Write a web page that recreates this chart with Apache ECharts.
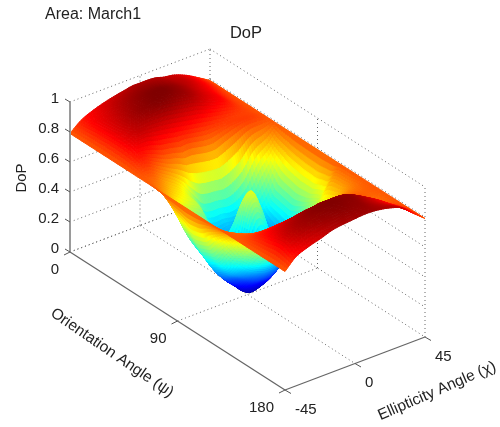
<!DOCTYPE html>
<html><head><meta charset="utf-8">
<style>html,body{margin:0;padding:0;background:#fff}#c{width:500px;height:427px;filter:blur(0.4px)}</style>
<script src="https://cdn.jsdelivr.net/npm/echarts@6/dist/echarts.min.js"></script>
</head><body><div id="c"></div>
<script>
const psiTicks = [0, 90, 180];
const chiTicks = [-45, 0, 45];
const dopTicks = [0, 0.2, 0.4, 0.6, 0.8, 1];
const psiGrid = [0,10,20,30,40,50,60,70,75,80,85,90,95,100,105,110,120,130,140,150,160,170,180];
const chiGrid = [-45,-38,-30,-22,-15,-10,-5,0,5,10,15,22,30,38,45];
const dopPsi000 = [.79,.85,.887,.913,.93,.94,.95,.95,.95,.945,.93,.917,.883,.835,.79];
const dopPsi010 = [.79,.87,.91,.945,.965,.975,.98,.98,.975,.965,.95,.93,.89,.84,.79];
const dopPsi020 = [.79,.88,.93,.965,.985,.995,1,1,.99,.975,.955,.92,.88,.83,.79];
const dopPsi030 = [.79,.885,.94,.97,.98,.985,.98,.97,.96,.95,.93,.90,.87,.82,.79];
const dopPsi040 = [.79,.88,.92,.91,.90,.89,.88,.87,.86,.85,.84,.83,.82,.81,.79];
const dopPsi050 = [.79,.85,.82,.78,.76,.74,.74,.73,.72,.72,.74,.77,.80,.80,.79];
const dopPsi060 = [.79,.78,.72,.66,.58,.50,.42,.40,.40,.39,.40,.46,.60,.68,.79];
const dopPsi070 = [.79,.72,.64,.58,.53,.42,.31,.29,.31,.31,.30,.33,.42,.62,.79];
const dopPsi075 = [.79,.68,.54,.48,.40,.34,.29,.33,.41,.44,.37,.29,.40,.60,.79];
const dopPsi080 = [.79,.63,.45,.34,.30,.27,.34,.42,.55,.60,.49,.28,.39,.59,.79];
const dopPsi085 = [.79,.60,.42,.29,.20,.15,.13,.18,.38,.48,.40,.25,.38,.58,.79];
const dopPsi090 = [.79,.58,.40,.26,.16,.11,.06,.04,.09,.22,.28,.24,.40,.58,.79];
const dopPsi095 = [.79,.55,.37,.24,.17,.12,.07,.05,.07,.11,.17,.28,.44,.58,.79];
const dopPsi100 = [.79,.56,.39,.27,.22,.18,.14,.13,.13,.16,.22,.32,.48,.60,.79];
const dopPsi105 = [.79,.58,.41,.31,.26,.23,.20,.19,.20,.24,.29,.40,.52,.62,.79];
const dopPsi110 = [.79,.63,.48,.38,.32,.29,.27,.27,.29,.33,.38,.46,.56,.70,.79];
const dopPsi120 = [.79,.70,.60,.50,.44,.42,.42,.44,.47,.50,.54,.58,.64,.72,.79];
const dopPsi130 = [.79,.76,.70,.64,.60,.60,.60,.62,.66,.68,.70,.72,.74,.76,.79];
const dopPsi140 = [.79,.80,.79,.78,.76,.76,.78,.80,.80,.80,.80,.80,.79,.78,.79];
const dopPsi150 = [.79,.85,.87,.88,.88,.88,.90,.90,.91,.91,.90,.87,.82,.77,.79];
const dopPsi160 = [.79,.88,.93,.96,.98,.985,.99,.99,.985,.98,.96,.92,.87,.81,.79];
const dopPsi170 = [.79,.90,.95,.97,.98,.985,.99,.99,.985,.98,.96,.93,.89,.84,.79];
const dopPsi180 = [.79,.86,.895,.92,.945,.955,.96,.965,.97,.97,.965,.95,.92,.85,.79];
const dopRows = [dopPsi000,dopPsi010,dopPsi020,dopPsi030,dopPsi040,dopPsi050,dopPsi060,dopPsi070,dopPsi075,dopPsi080,dopPsi085,dopPsi090,dopPsi095,dopPsi100,dopPsi105,dopPsi110,dopPsi120,dopPsi130,dopPsi140,dopPsi150,dopPsi160,dopPsi170,dopPsi180];

// Oblique box projection (page pixels, mapped through the hidden value axes)
function project(psi, chi, z) {
  const a = psi / 180, b = (chi + 45) / 90;
  return [70 + 215 * a + 140 * b, 252 + 138 * a - 53 * b - 150 * z];
}
function clamp(v) { return Math.max(0, Math.min(1, v)); }
function jet(v) {
  const r = clamp(Math.min(4 * v - 1.5, -4 * v + 4.5));
  const g = clamp(Math.min(4 * v - 0.5, -4 * v + 3.5));
  const b = clamp(Math.min(4 * v + 0.5, -4 * v + 2.5));
  return 'rgb(' + Math.round(r * 255) + ',' + Math.round(g * 255) + ',' + Math.round(b * 255) + ')';
}
// Smooth shading between the read grid values (cubic Hermite, like a shaded surface)
function slopes(xs, ys, k) {
  if (k === 0) return (ys[1] - ys[0]) / (xs[1] - xs[0]);
  if (k === xs.length - 1) return (ys[k] - ys[k - 1]) / (xs[k] - xs[k - 1]);
  return (ys[k + 1] - ys[k - 1]) / (xs[k + 1] - xs[k - 1]);
}
function herm(xs, ys, k, s) {
  const h = xs[k + 1] - xs[k], m0 = slopes(xs, ys, k) * h, m1 = slopes(xs, ys, k + 1) * h;
  const s2 = s * s, s3 = s2 * s;
  return (2 * s3 - 3 * s2 + 1) * ys[k] + (s3 - 2 * s2 + s) * m0 + (-2 * s3 + 3 * s2) * ys[k + 1] + (s3 - s2) * m1;
}
function surfaceAt(i, s, j, t) {
  const col = dopRows.map(row => herm(chiGrid, row, j, t));
  return clamp(herm(psiGrid, col, i, s));
}

// Cells in far-to-near order: psi ascending, chi descending
const cells = [];
for (let i = 0; i < psiGrid.length - 1; i++)
  for (let j = chiGrid.length - 2; j >= 0; j--) cells.push([i, j]);

const SUB = 6;
function renderCell(params, api) {
  const i = api.value(0), j = api.value(1);
  const p0 = psiGrid[i], p1 = psiGrid[i + 1], c0 = chiGrid[j], c1 = chiGrid[j + 1];
  const at = (s, t) => {
    const z = surfaceAt(i, s, j, t);
    return { z, pt: api.coord(project(p0 + (p1 - p0) * s, c0 + (c1 - c0) * t, z)) };
  };
  const children = [];
  for (let m = 0; m < SUB; m++) {
    for (let n = SUB - 1; n >= 0; n--) {
      const q = [at(m / SUB, n / SUB), at(m / SUB, (n + 1) / SUB), at((m + 1) / SUB, (n + 1) / SUB), at((m + 1) / SUB, n / SUB)];
      const col = jet((q[0].z + q[1].z + q[2].z + q[3].z) / 4);
      children.push({ type: 'polygon', shape: { points: q.map(o => o.pt) },
        style: { fill: col, stroke: col, lineWidth: 1 } });
    }
  }
  return { type: 'group', children };
}

// Box wireframe
const dotted = [];
dopTicks.forEach(z => {
  dotted.push([[0, -45, z], [0, 45, z]]);
  dotted.push([[0, 45, z], [180, 45, z]]);
});
[[0, 0], [0, 45], [90, 45], [180, 45]].forEach(p => dotted.push([[p[0], p[1], 0], [p[0], p[1], 1]]));
psiTicks.slice(0, 2).forEach(p => dotted.push([[p, -45, 0], [p, 45, 0]]));
chiTicks.slice(1, 2).forEach(c => dotted.push([[0, c, 0], [180, c, 0]]));

const axisSegs = [
  { a: [0, -45, 0], b: [0, -45, 1], color: '#9a9a9a', w: 2 },
  { a: [0, -45, 0], b: [180, -45, 0], color: '#666', w: 1.3 },
  { a: [180, -45, 0], b: [180, 45, 0], color: '#666', w: 1.3 }
];
const tickSegs = [];
dopTicks.forEach(z => tickSegs.push({ p: [0, -45, z], dx: -5, dy: -3 }));
psiTicks.forEach(p => tickSegs.push({ p: [p, -45, 0], dx: -6, dy: 3 }));
chiTicks.forEach(c => tickSegs.push({ p: [180, c, 0], dx: 6, dy: 3.5 }));

const TXT = '#222';
function label(text, x, y, align, rotDeg, size) {
  return { type: 'text', x, y, rotation: (rotDeg || 0) * Math.PI / 180, silent: true,
    style: { text, fill: TXT, font: (size || 15) + 'px "Liberation Sans", Arial, sans-serif', align: align || 'center', verticalAlign: 'middle' } };
}
const graphics = [
  label('Area: March1', 45, 15, 'left', 0, 16),
  label('DoP', 246, 33, 'center', 0, 16.5),
  label('DoP', 22, 178, 'center', 90),
  label('Orientation Angle (\u03C8)', 112, 353, 'center', -34.5, 15.5),
  label('Ellipticity Angle (\u03C7)', 437, 391, 'center', 23.5, 15.5)
];
dopTicks.forEach(z => { const p = project(0, -45, z); graphics.push(label(String(z), 59, p[1] - 3.5, 'right')); });
psiTicks.forEach(v => { const p = project(v, -45, 0); graphics.push(label(String(v), p[0] - 11, p[1] + 18, 'right')); });
chiTicks.forEach(v => { const p = project(180, v, 0); graphics.push(label(String(v), p[0] + 10, p[1] + 19.5, 'left')); });

const chart = echarts.init(document.getElementById('c'), null, { width: 500, height: 427 });
chart.setOption({
  animation: false,
  backgroundColor: '#fff',
  grid: { left: 0, right: 0, top: 0, bottom: 0 },
  xAxis: { type: 'value', min: 0, max: 500, show: false },
  yAxis: { type: 'value', min: 0, max: 427, inverse: true, show: false },
  graphic: graphics,
  series: [
    { type: 'custom', coordinateSystem: 'cartesian2d', silent: true, progressive: 0,
      data: dotted.map((s, i) => [i]),
      renderItem: (p, api) => {
        const s = dotted[api.value(0)];
        const A = api.coord(project(...s[0])), B = api.coord(project(...s[1]));
        return { type: 'line', shape: { x1: A[0], y1: A[1], x2: B[0], y2: B[1] },
          style: { stroke: '#666', lineWidth: 1, lineDash: [1, 3] } };
      } },
    { type: 'custom', coordinateSystem: 'cartesian2d', silent: true, progressive: 0,
      data: cells, renderItem: renderCell },
    { type: 'custom', coordinateSystem: 'cartesian2d', silent: true, progressive: 0,
      data: axisSegs.map((s, i) => [i]),
      renderItem: (p, api) => {
        const s = axisSegs[api.value(0)];
        const A = api.coord(project(...s.a)), B = api.coord(project(...s.b));
        return { type: 'line', shape: { x1: A[0], y1: A[1], x2: B[0], y2: B[1] },
          style: { stroke: s.color, lineWidth: s.w } };
      } },
    { type: 'custom', coordinateSystem: 'cartesian2d', silent: true, progressive: 0,
      data: tickSegs.map((s, i) => [i]),
      renderItem: (p, api) => {
        const s = tickSegs[api.value(0)];
        const A = api.coord(project(...s.p));
        return { type: 'line', shape: { x1: A[0], y1: A[1], x2: A[0] + s.dx, y2: A[1] + s.dy },
          style: { stroke: '#555', lineWidth: 1 } };
      } }
  ]
});
</script></body></html>
